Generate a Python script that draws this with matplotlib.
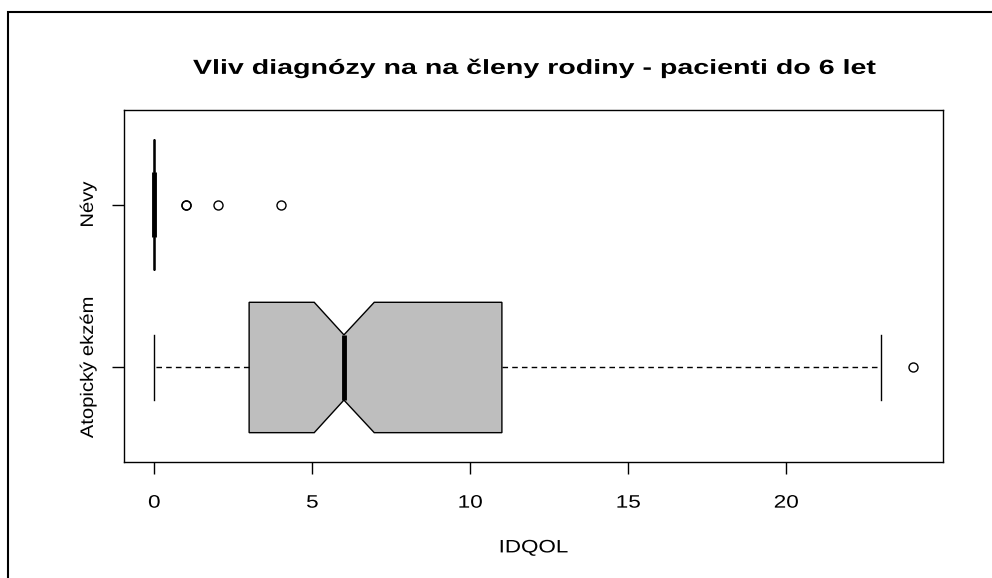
import matplotlib.pyplot as plt
from matplotlib.patches import Rectangle
from matplotlib.patheffects import AbstractPathEffect
from matplotlib.transforms import Affine2D

plt.rcParams['font.family'] = ['Liberation Sans', 'DejaVu Sans']

groups = ['Atopický ekzém', 'Névy']
q1 = [3, 0]
med = [6, 0]
q3 = [11, 0]
whislo = [0, 0]
whishi = [23, 0]
cilo = [5.06, 0]
cihi = [6.96, 0]
fliers = [[24], [1, 1, 2, 4]]
xticks = [0, 5, 10, 15, 20]


class Stretch(AbstractPathEffect):
    # widen glyphs along the text direction, about the text centre
    def __init__(self, sx):
        super().__init__()
        self.sx = sx

    def draw_path(self, renderer, gc, tpath, affine, rgbFace=None):
        ext = tpath.get_extents()
        cx = (ext.x0 + ext.x1) / 2
        t = Affine2D().translate(-cx, 0).scale(self.sx, 1).translate(cx, 0)
        renderer.draw_path(gc, tpath, t + affine, rgbFace)


stats = []
for i in range(len(groups)):
    stats.append(dict(label=groups[i], q1=q1[i], med=med[i], q3=q3[i],
                      whislo=whislo[i], whishi=whishi[i],
                      cilo=cilo[i], cihi=cihi[i], fliers=fliers[i]))

fig = plt.figure(figsize=(9.92, 5.78), dpi=100)
ax = fig.add_axes([124/992, 1-462/578, (943-124)/992, (462-110)/578])

ax.bxp(stats, positions=[1, 2], widths=0.8, orientation='horizontal',
       shownotches=True, patch_artist=True,
       boxprops=dict(facecolor='#BEBEBE', edgecolor='black', linewidth=1),
       medianprops=dict(color='black', linewidth=3.5, solid_capstyle='butt'),
       whiskerprops=dict(color='black', linewidth=1, linestyle=(0, (4, 3))),
       capprops=dict(color='black', linewidth=1),
       flierprops=dict(marker='o', markerfacecolor='none', markeredgecolor='black',
                       markersize=6.5, markeredgewidth=1))

ax.set_xlim(-0.96, 24.96)
ax.set_ylim(0.42, 2.58)
ax.set_xticks(xticks)
ax.set_xticklabels([str(t) for t in xticks])
ax.set_yticks([1, 2])
ax.set_yticklabels(groups, rotation=90, va='center')
ax.tick_params(axis='both', length=8.5, width=1, labelsize=13)
ax.tick_params(axis='x', pad=15)
ax.tick_params(axis='y', pad=11)
for s in ax.spines.values():
    s.set_linewidth(1)
for lab in ax.get_xticklabels():
    lab.set_path_effects([Stretch(1.25)])
for lab in ax.get_yticklabels():
    lab.set_path_effects([Stretch(1.12)])

xl = ax.set_xlabel('IDQOL', fontsize=13, labelpad=20)
xl.set_path_effects([Stretch(1.24)])
tt = ax.set_title('Vliv diagnózy na na členy rodiny - pacienti do 6 let',
                  fontsize=14.7, fontweight='bold', pad=26)
tt.set_path_effects([Stretch(1.40)])

fig.patches.append(Rectangle((8/992, -0.1), 1.2, 1-12/578+0.1, transform=fig.transFigure,
                             fill=False, edgecolor='black', linewidth=1.5))

fig.savefig('out.png', dpi=100)
